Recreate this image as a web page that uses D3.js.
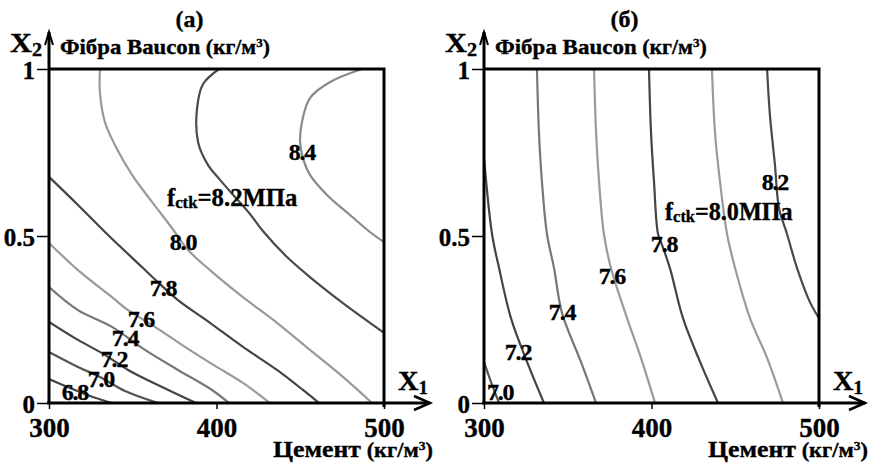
<!DOCTYPE html>
<html><head><meta charset="utf-8">
<script src="https://cdn.jsdelivr.net/npm/d3@7"></script>
<style>
body{margin:0;background:#fff}
svg text{font-family:"Liberation Serif","Times New Roman",serif;font-weight:bold;fill:#000;stroke:#000;stroke-width:0.35px}
</style></head><body>
<svg id="c" width="874" height="463"></svg>
<script>
// ---------- data ----------
const xTicks = [300, 400, 500];
const yTicks = [0, 0.5, 1];
const panelTitles = ["(a)", "(б)"];
const mainLabels = ["8.2МПа", "8.0МПа"];

const levelsA = [6.8, 7.0, 7.2, 7.4, 7.6, 7.8, 8.0, 8.2, 8.4];
const linesA = [
  [[300,0.072],[312.5,0.045],[324.5,0.021],[337.6,0]],
  [[300,0.153],[317.3,0.108],[330.4,0.078],[345.4,0.036],[365.1,0]],
  [[300,0.243],[317.3,0.189],[333.4,0.144],[347.2,0.099],[367.5,0.048],[387.8,0]],
  [[300,0.347],[317.3,0.278],[337.6,0.228],[357.3,0.159],[377,0.099],[397.3,0.039],[407.5,0]],
  [[300,0.479],[317.3,0.398],[337.6,0.317],[347.2,0.278],[363.3,0.228],[381.2,0.168],[399.1,0.111],[415.8,0.060],[431.9,0]],
  [[300,0.677],[317.3,0.593],[333.4,0.512],[355.5,0.407],[366.3,0.356],[377,0.308],[396.1,0.240],[415.8,0.168],[436.1,0.099],[451.6,0.039],[461.2,0]],
  [[330.4,1],[330.4,0.931],[333.4,0.841],[339.4,0.772],[349.6,0.683],[361.5,0.602],[373.4,0.524],[383,0.458],[396.1,0.398],[415.8,0.317],[436.1,0.240],[455.8,0.159],[475.5,0.078],[492.8,0]],
  [[401.5,1],[392,0.955],[388.4,0.883],[389,0.781],[394.9,0.713],[402.1,0.668],[411.6,0.614],[420,0.566],[427.2,0.518],[442.1,0.437],[455.8,0.377],[475.5,0.299],[500,0.21]],
  [[486.9,1],[467.8,0.961],[455.8,0.913],[451,0.841],[449.9,0.781],[451.6,0.734],[455.8,0.683],[466,0.623],[479.7,0.563],[491.6,0.512],[500,0.482]]
];
const labelPosA = [[315.5,0.036],[331,0.075],[338.8,0.135],[345.4,0.198],[354.9,0.254],[368.1,0.347],[380,0.485],null,[451,0.754]];
const mainLabelPosA = [370.4, 0.590];

const levelsB = [7.0, 7.2, 7.4, 7.6, 7.8, 8.0, 8.2];
const linesB = [
  [[300,0.123],[304.8,0.054],[309,0]],
  [[300,0.734],[304.8,0.506],[309,0.404],[316.1,0.254],[325.7,0.123],[335.8,0]],
  [[331.6,1],[332.8,0.811],[334.6,0.662],[337.6,0.506],[341.8,0.404],[346.6,0.269],[357.9,0.123],[366.9,0]],
  [[365.7,1],[366.9,0.811],[368.7,0.662],[371.6,0.506],[375.8,0.404],[385.4,0.254],[393.7,0.135],[402.1,0]],
  [[398.5,1],[399.7,0.811],[401.5,0.662],[403.9,0.506],[406.3,0.473],[411.0,0.404],[418.8,0.254],[429,0.123],[439.7,0]],
  [[436.1,1],[437.9,0.811],[440.9,0.662],[445.1,0.506],[449.9,0.404],[458.8,0.254],[469,0.135],[478.5,0]],
  [[469,1],[470.7,0.862],[473.7,0.713],[476.1,0.584],[480.9,0.506],[486.9,0.404],[494.6,0.302],[500,0.254]]
];
const labelPosB = [[309.6,0.036],[320.3,0.156],[346.6,0.275],[376.4,0.383],[407.5,0.479],null,[473.7,0.665]];
const mainLabelPosB = [408.1, 0.548];

// ---------- styles ----------
const colorsA = ["#444","#555","#444","#777","#9a9a9a","#444","#9a9a9a","#4a4a4a","#8a8a8a"];
const colorsB = ["#555","#444","#777","#9a9a9a","#444","#9a9a9a","#4a4a4a"];

const svg = d3.select("#c");
const plotTop = 69, plotBottom = 403;

// stretch a text horizontally so its ink box has the given width
function fitText(sel, x, y, width, anchor) {
  sel.attr("x", 0).attr("y", 0);
  const b = sel.node().getBBox();
  const sx = width / b.width;
  const tx = anchor === "middle" ? x - width / 2 : x;
  sel.attr("transform", `translate(${tx - b.x * sx},${y}) scale(${sx},1)`);
}

function unitSpans(t, size) {
  t.append("tspan").style("font-size", size + "px").text(" (кг/м");
  t.append("tspan").style("font-size", Math.round(size * 0.62) + "px").attr("dy", -7).text("3");
  t.append("tspan").style("font-size", size + "px").attr("dy", 7).text(")");
}

function panel(i, left, right, levels, lines, labelPos, mainPos, colors) {
  const x = d3.scaleLinear().domain([300, 500]).range([left, right]);
  const y = d3.scaleLinear().domain([0, 1]).range([plotBottom, plotTop]);
  const g = svg.append("g");

  const clipId = "clip" + i;
  svg.append("clipPath").attr("id", clipId).append("rect")
    .attr("x", left).attr("y", plotTop).attr("width", right - left).attr("height", plotBottom - plotTop);

  const line = d3.line().x(d => x(d[0])).y(d => y(d[1])).curve(d3.curveCatmullRom.alpha(0.5));
  g.append("g").attr("clip-path", `url(#${clipId})`)
    .selectAll("path").data(lines).join("path")
    .attr("d", line).attr("fill", "none")
    .attr("stroke", (d, k) => colors[k]).attr("stroke-width", 2.2);

  // frame (top + right)
  g.append("path").attr("d", `M${left},${plotTop}H${right}V${plotBottom + 4}`)
    .attr("fill", "none").attr("stroke", "#000").attr("stroke-width", 3);
  // y axis line with arrow
  g.append("path").attr("d", `M${left},${plotBottom}V${32}`).attr("stroke", "#000").attr("stroke-width", 3);
  g.append("path").attr("d", `M${left - 4},${45}L${left},${32}L${left + 4},${45}`)
    .attr("fill", "none").attr("stroke", "#000").attr("stroke-width", 2);
  // x axis line with arrow
  const xEnd = right + 46;
  g.append("path").attr("d", `M${left - 2},${plotBottom}H${xEnd}`).attr("stroke", "#000").attr("stroke-width", 3);
  g.append("path").attr("d", `M${xEnd - 16},${plotBottom - 7}L${xEnd},${plotBottom}L${xEnd - 16},${plotBottom + 7}`)
    .attr("fill", "none").attr("stroke", "#000").attr("stroke-width", 2.5);

  // axes ticks
  const ax = g.append("g").attr("transform", `translate(0,${plotBottom})`)
    .call(d3.axisBottom(x).tickValues(xTicks).tickSize(6).tickPadding(9).tickFormat(d3.format("d")));
  ax.select(".domain").remove();
  ax.selectAll("line").attr("stroke-width", 1.5);
  ax.selectAll("text").style("font-size", "27px").attr("font-family", null);

  const ay = g.append("g").attr("transform", `translate(${left},0)`)
    .call(d3.axisLeft(y).tickValues(yTicks).tickSize(12).tickPadding(2).tickFormat(d => d === 0.5 ? "0.5" : String(d)));
  ay.select(".domain").remove();
  ay.selectAll("line").attr("stroke-width", 1.5);
  ay.selectAll("text").style("font-size", "25px").attr("font-family", null).attr("dy", "0.36em");

  // contour labels
  labelPos.forEach((p, k) => {
    if (!p) return;
    g.append("text").attr("x", x(p[0])).attr("y", y(p[1])).attr("dy", "0.36em")
      .attr("text-anchor", "middle").style("font-size", "24px").attr("letter-spacing", -1.2)
      .text(levels[k].toFixed(1));
  });
  // main label f_ctk=...
  const t = g.append("text").style("font-size", "25px");
  t.append("tspan").text("f");
  t.append("tspan").style("font-size", "17px").attr("dy", 2).text("ctk");
  t.append("tspan").attr("dy", -2).text("=" + mainLabels[i]);
  fitText(t, x(mainPos[0]), y(mainPos[1]), i === 0 ? 131 : 128);

  // title
  g.append("text").attr("x", (left + right) / 2 - 27).attr("y", 27).attr("text-anchor", "middle")
    .style("font-size", "24px").text(panelTitles[i]);

  // X2 label
  const x2 = g.append("text").style("font-size", "27px");
  x2.append("tspan").text("X");
  x2.append("tspan").style("font-size", "18px").attr("dy", 4).text("2");
  fitText(x2, left - 39, 52, 32);
  // y axis title
  const yt = g.append("text").style("font-size", "21px");
  yt.append("tspan").text("Фібра Baucon");
  unitSpans(yt, 20);
  fitText(yt, left + 11, 54, i === 0 ? 210 : 212);

  // X1 label
  const x1 = g.append("text").style("font-size", "27px");
  x1.append("tspan").text("X");
  x1.append("tspan").style("font-size", "18px").attr("dy", 4).text("1");
  fitText(x1, right + 14, 390, 30);
  // x axis title
  const xt = g.append("text").style("font-size", "23px");
  xt.append("tspan").text("Цемент");
  unitSpans(xt, 20);
  fitText(xt, right - 111, 457, 160);
}

panel(0, 49, 384, levelsA, linesA, labelPosA, mainLabelPosA, colorsA);
panel(1, 484, 819, levelsB, linesB, labelPosB, mainLabelPosB, colorsB);
</script>
</body></html>
